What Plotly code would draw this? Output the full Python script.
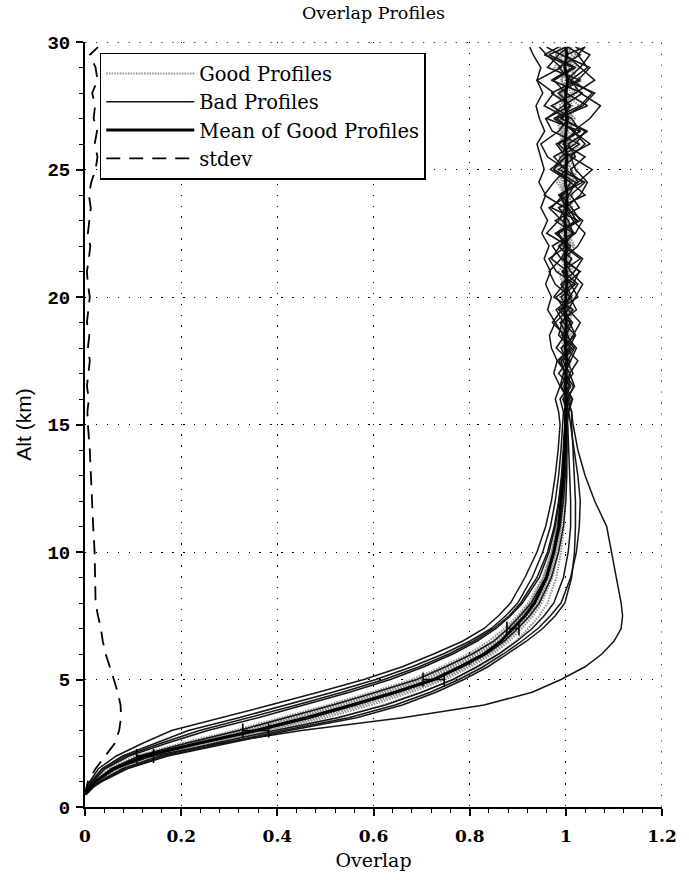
import plotly.graph_objects as go

# Altitude levels (km) shared by every profile
ALT = [0.5, 0.8, 1.0, 1.5, 2.0, 2.5, 3.0, 3.5, 4.0, 4.5, 5.0, 5.5, 6.0, 6.5,
       7.0, 7.5, 8.0, 9.0, 10.0, 11.0, 12.0, 13.0, 14.0, 15.0,
       15.5, 16.0, 16.5, 17.0, 17.5, 18.0, 18.5, 19.0, 19.5, 20.0, 20.5, 21.0,
       21.5, 22.0, 22.5, 23.0, 23.5, 24.0, 24.5, 25.0, 25.5, 26.0, 26.5, 27.0,
       27.5, 28.0, 28.5, 29.0, 29.5, 29.8]

# Good profiles (overlap vs altitude)
good_01 = [0.000, 0.011, 0.021, 0.058, 0.120, 0.228, 0.345, 0.450, 0.545, 0.635, 0.715, 0.772, 0.822, 0.860,
           0.886, 0.912, 0.932, 0.958, 0.974, 0.984, 0.990, 0.995, 0.998, 1.000,
           1.003, 0.997, 1.001, 1.006, 0.998, 0.993, 1.004, 1.000, 1.010, 0.996, 0.990, 1.006, 1.012, 0.998, 1.004,
           0.988, 1.000, 1.014, 1.004, 0.992, 1.008, 0.985, 1.002, 1.018, 0.995, 0.985, 1.012, 1.000, 1.022, 1.005]
good_02 = [0.001, 0.013, 0.024, 0.064, 0.130, 0.242, 0.365, 0.472, 0.566, 0.655, 0.733, 0.788, 0.837, 0.870,
           0.895, 0.920, 0.940, 0.963, 0.977, 0.987, 0.992, 0.996, 0.999, 1.001,
           0.998, 1.005, 0.999, 0.994, 1.006, 1.002, 0.992, 1.008, 1.001, 0.990, 1.012, 0.998, 1.004, 1.016, 0.994,
           1.006, 0.986, 1.000, 1.012, 0.990, 1.016, 1.004, 0.985, 1.008, 0.995, 1.022, 0.990, 1.010, 0.982, 1.005]
good_03 = [0.000, 0.009, 0.018, 0.050, 0.105, 0.200, 0.310, 0.410, 0.505, 0.595, 0.680, 0.742, 0.797, 0.840,
           0.872, 0.900, 0.922, 0.952, 0.970, 0.982, 0.989, 0.994, 0.997, 0.999,
           1.000, 0.994, 1.004, 1.000, 0.992, 1.006, 0.996, 0.990, 1.002, 1.010, 0.994, 0.985, 1.004, 0.994, 1.012,
           1.000, 0.988, 1.006, 0.996, 1.015, 0.985, 1.008, 0.995, 0.980, 1.010, 0.995, 1.015, 0.985, 1.005, 0.995]
good_04 = [0.002, 0.015, 0.028, 0.072, 0.145, 0.262, 0.385, 0.500, 0.595, 0.678, 0.750, 0.802, 0.848, 0.882,
           0.908, 0.932, 0.950, 0.972, 0.984, 0.991, 0.995, 0.998, 1.000, 1.001,
           1.004, 1.000, 0.996, 1.006, 1.010, 1.002, 0.996, 1.008, 1.014, 0.998, 1.006, 1.016, 0.998, 1.010, 1.000,
           1.020, 1.006, 0.995, 1.012, 1.024, 1.000, 0.994, 1.015, 1.005, 1.028, 0.998, 1.012, 1.025, 1.000, 1.012]
good_05 = [0.001, 0.012, 0.023, 0.062, 0.126, 0.236, 0.358, 0.462, 0.558, 0.648, 0.727, 0.782, 0.832, 0.866,
           0.890, 0.915, 0.935, 0.960, 0.975, 0.985, 0.990, 0.995, 0.998, 1.000,
           0.999, 1.003, 0.997, 1.001, 1.006, 0.998, 1.002, 1.008, 0.996, 1.004, 0.998, 1.010, 0.992, 1.004, 1.010,
           0.996, 1.006, 0.990, 1.012, 1.002, 0.994, 1.008, 1.000, 0.988, 1.014, 1.002, 0.990, 1.016, 1.000, 0.988]
good_06 = [0.000, 0.010, 0.020, 0.054, 0.113, 0.215, 0.330, 0.435, 0.528, 0.618, 0.700, 0.760, 0.812, 0.852,
           0.880, 0.906, 0.928, 0.955, 0.972, 0.983, 0.989, 0.994, 0.997, 0.999,
           1.001, 0.996, 1.003, 0.993, 1.000, 1.004, 0.990, 1.000, 0.995, 1.008, 0.992, 0.998, 1.006, 0.986, 0.998,
           1.004, 0.990, 0.998, 0.982, 1.004, 0.994, 0.985, 1.002, 0.990, 0.976, 1.004, 0.990, 0.998, 0.978, 0.995]
good_07 = [0.002, 0.017, 0.031, 0.080, 0.160, 0.280, 0.405, 0.528, 0.620, 0.700, 0.768, 0.818, 0.862, 0.895,
           0.922, 0.945, 0.962, 0.980, 0.990, 0.996, 0.999, 1.001, 1.002, 1.002,
           1.003, 1.007, 1.000, 1.010, 0.998, 1.006, 1.012, 1.000, 1.008, 1.015, 0.998, 1.010, 1.002, 1.018, 1.006,
           0.996, 1.014, 1.006, 1.024, 1.000, 1.012, 1.028, 1.004, 1.018, 0.996, 1.014, 1.032, 1.004, 1.020, 1.028]
good_08 = [0.001, 0.014, 0.026, 0.068, 0.138, 0.252, 0.375, 0.485, 0.580, 0.666, 0.742, 0.795, 0.842, 0.876,
           0.902, 0.926, 0.945, 0.968, 0.980, 0.989, 0.993, 0.997, 0.999, 1.000,
           1.000, 1.003, 0.996, 1.002, 0.997, 1.004, 0.995, 1.001, 1.007, 0.996, 1.004, 0.992, 1.002, 0.994, 1.008,
           1.002, 0.994, 1.010, 1.000, 0.994, 1.012, 1.002, 0.992, 1.012, 1.004, 0.990, 1.010, 1.018, 0.992, 1.006]
good_09 = [0.000, 0.010, 0.019, 0.052, 0.110, 0.210, 0.322, 0.425, 0.520, 0.612, 0.695, 0.755, 0.808, 0.848,
           0.878, 0.904, 0.926, 0.954, 0.971, 0.982, 0.989, 0.994, 0.997, 0.999,
           0.998, 1.001, 0.994, 0.999, 1.003, 0.995, 0.990, 0.998, 1.002, 0.988, 0.998, 1.004, 0.990, 1.000, 0.984,
           0.996, 1.004, 0.990, 0.998, 0.982, 0.996, 1.006, 0.988, 0.980, 0.998, 0.986, 1.004, 0.976, 0.994, 0.985]
good_10 = [0.001, 0.012, 0.022, 0.060, 0.124, 0.232, 0.352, 0.456, 0.552, 0.642, 0.722, 0.778, 0.828, 0.864,
           0.888, 0.913, 0.933, 0.959, 0.975, 0.985, 0.990, 0.995, 0.998, 1.000,
           1.001, 0.999, 1.005, 0.998, 1.002, 0.999, 1.006, 0.997, 1.001, 1.009, 0.996, 1.002, 0.998, 1.008, 0.992,
           1.008, 0.998, 1.003, 0.992, 1.012, 0.998, 1.004, 1.016, 0.994, 1.006, 0.990, 1.010, 0.998, 1.014, 0.994]
good_11 = [0.001, 0.013, 0.025, 0.066, 0.134, 0.246, 0.370, 0.478, 0.572, 0.660, 0.738, 0.792, 0.840, 0.873,
           0.898, 0.922, 0.942, 0.965, 0.978, 0.988, 0.992, 0.996, 0.999, 1.000,
           1.000, 1.004, 0.998, 1.003, 0.995, 1.002, 1.007, 0.997, 1.003, 0.994, 1.008, 1.000, 0.993, 1.006, 1.012,
           0.996, 1.004, 0.990, 1.010, 1.000, 0.992, 1.014, 0.998, 1.006, 0.986, 1.010, 1.000, 0.990, 1.014, 1.000]
good_12 = [0.000, 0.011, 0.021, 0.056, 0.117, 0.222, 0.338, 0.442, 0.537, 0.627, 0.708, 0.766, 0.817, 0.856,
           0.883, 0.909, 0.930, 0.957, 0.973, 0.984, 0.990, 0.994, 0.997, 0.999,
           0.999, 1.002, 0.996, 1.000, 1.004, 0.994, 0.999, 1.006, 0.993, 1.001, 0.996, 1.004, 1.010, 0.992, 1.000,
           0.994, 1.008, 0.998, 0.988, 1.004, 1.010, 0.994, 0.986, 1.006, 0.996, 0.984, 1.008, 0.996, 0.980, 0.990]

# Bad profiles
bad_01 = [0.000, 0.004, 0.010, 0.028, 0.065, 0.120, 0.180, 0.285, 0.385, 0.485, 0.580, 0.660, 0.725, 0.785,
          0.830, 0.860, 0.885, 0.915, 0.940, 0.958, 0.970, 0.978, 0.984, 0.988,
          0.985, 0.978, 0.988, 0.975, 0.982, 0.970, 0.966, 0.978, 0.962, 0.970, 0.958, 0.968, 0.955, 0.965, 0.950,
          0.962, 0.948, 0.958, 0.944, 0.955, 0.948, 0.940, 0.956, 0.945, 0.938, 0.952, 0.940, 0.948, 0.932, 0.925]
bad_02 = [0.000, 0.006, 0.013, 0.035, 0.078, 0.145, 0.215, 0.320, 0.420, 0.515, 0.605, 0.680, 0.745, 0.800,
          0.845, 0.875, 0.900, 0.930, 0.952, 0.968, 0.978, 0.985, 0.990, 0.994,
          0.995, 0.988, 1.006, 0.998, 0.990, 1.012, 0.985, 0.992, 1.015, 0.975, 0.996, 1.004, 0.970, 0.988, 1.018,
          0.992, 0.965, 1.006, 1.020, 0.975, 0.990, 1.028, 0.972, 0.958, 1.010, 0.985, 1.030, 0.962, 0.985, 1.005]
bad_03 = [0.000, 0.008, 0.016, 0.042, 0.092, 0.170, 0.255, 0.360, 0.455, 0.550, 0.635, 0.705, 0.765, 0.815,
          0.855, 0.885, 0.910, 0.945, 0.965, 0.978, 0.986, 0.992, 0.996, 0.998,
          1.004, 1.012, 0.996, 1.015, 1.002, 0.990, 1.020, 1.008, 0.985, 1.025, 1.010, 0.992, 1.030, 0.995, 1.015,
          0.978, 1.028, 1.010, 1.040, 0.985, 1.020, 1.005, 1.045, 0.990, 1.035, 1.060, 1.000, 1.030, 1.050, 1.020]
bad_04 = [0.003, 0.019, 0.035, 0.088, 0.172, 0.295, 0.425, 0.565, 0.660, 0.730, 0.788, 0.838, 0.878, 0.918,
          0.952, 0.978, 0.998, 1.012, 1.018, 1.020, 1.020, 1.018, 1.015, 1.012,
          1.012, 1.002, 1.018, 1.008, 1.025, 1.000, 1.015, 1.030, 1.005, 1.020, 1.035, 1.010, 0.995, 1.025, 1.040,
          1.015, 1.000, 1.030, 1.045, 1.020, 1.010, 1.040, 1.015, 1.050, 1.072, 1.030, 1.010, 1.045, 1.025, 1.040]
bad_05 = [0.002, 0.016, 0.030, 0.078, 0.155, 0.270, 0.395, 0.525, 0.625, 0.700, 0.765, 0.815, 0.860, 0.898,
          0.930, 0.955, 0.975, 0.995, 1.005, 1.010, 1.010, 1.008, 1.006, 1.004,
          0.998, 1.008, 0.990, 1.002, 0.982, 1.010, 0.995, 0.978, 1.005, 0.990, 1.020, 0.980, 0.965, 1.002, 0.985,
          1.025, 0.970, 0.995, 1.010, 0.968, 1.000, 0.980, 1.030, 0.960, 0.995, 1.035, 0.970, 1.015, 0.955, 0.985]
bad_06 = [0.000, 0.010, 0.020, 0.055, 0.112, 0.210, 0.320, 0.420, 0.515, 0.605, 0.690, 0.750, 0.805, 0.850,
          0.880, 0.905, 0.928, 0.958, 0.975, 0.988, 0.995, 0.999, 1.002, 1.003,
          1.006, 0.996, 1.010, 0.985, 1.004, 1.018, 0.992, 1.010, 0.998, 0.980, 1.015, 1.028, 0.995, 1.010, 0.978,
          1.022, 1.005, 0.985, 1.035, 1.000, 0.975, 1.020, 1.040, 0.990, 1.010, 0.970, 1.025, 1.050, 0.990, 0.960]
bad_07 = [0.000, 0.007, 0.014, 0.038, 0.085, 0.158, 0.238, 0.342, 0.440, 0.535, 0.622, 0.695, 0.757, 0.808,
          0.850, 0.882, 0.906, 0.940, 0.962, 0.976, 0.985, 0.991, 0.995, 0.998,
          0.996, 1.004, 0.988, 0.995, 1.008, 0.980, 0.998, 0.972, 0.992, 1.010, 0.978, 0.965, 0.990, 1.005, 0.960,
          0.985, 0.998, 0.955, 0.975, 1.000, 0.962, 0.948, 0.985, 1.005, 0.955, 0.975, 0.940, 0.990, 0.960, 0.945]
bad_08 = [0.000, 0.010, 0.020, 0.060, 0.140, 0.280, 0.450, 0.660, 0.830, 0.930, 0.990, 1.040, 1.075, 1.100,
          1.115, 1.118, 1.115, 1.105, 1.095, 1.085, 1.060, 1.040, 1.025, 1.015,
          1.012, 1.004, 1.016, 0.998, 1.010, 1.022, 1.000, 1.014, 0.990, 1.008, 1.025, 0.995, 1.012, 0.985, 1.020,
          1.035, 1.000, 0.988, 1.025, 1.010, 1.040, 0.995, 1.020, 0.975, 1.030, 1.055, 1.010, 0.985, 1.030, 1.005]
bad_09 = [0.001, 0.011, 0.022, 0.062, 0.128, 0.240, 0.362, 0.470, 0.562, 0.650, 0.728, 0.785, 0.835, 0.872,
          0.900, 0.925, 0.945, 0.970, 0.985, 0.995, 1.000, 1.002, 1.002, 1.001,
          1.003, 0.994, 1.010, 1.000, 0.986, 1.006, 1.020, 0.995, 0.980, 1.012, 1.000, 1.030, 0.990, 0.972, 1.015,
          1.005, 0.985, 1.040, 1.010, 0.975, 1.000, 1.050, 1.015, 0.982, 1.045, 1.000, 0.975, 1.020, 0.965, 1.000]
bad_10 = [0.002, 0.017, 0.033, 0.084, 0.165, 0.285, 0.412, 0.548, 0.645, 0.718, 0.778, 0.828, 0.870, 0.908,
          0.942, 0.968, 0.990, 1.010, 1.022, 1.028, 1.030, 1.025, 1.018, 1.010,
          1.006, 1.014, 1.000, 1.008, 0.994, 1.016, 1.004, 0.988, 1.022, 1.008, 0.990, 1.018, 1.035, 1.000, 0.982,
          1.030, 1.012, 0.990, 1.025, 1.055, 1.010, 0.985, 1.030, 1.012, 0.970, 1.020, 1.060, 1.030, 1.000, 1.040]

# Mean of the good profiles and its standard deviation
mean_good = [0.000, 0.012, 0.022, 0.060, 0.125, 0.235, 0.355, 0.460, 0.555, 0.645, 0.725, 0.780, 0.830, 0.865,
             0.890, 0.915, 0.935, 0.960, 0.975, 0.985, 0.990, 0.995, 0.998, 1.000,
             1.000, 1.001, 0.999, 1.000, 1.002, 0.999, 1.000, 1.001, 0.998, 1.000, 1.002, 1.000, 0.999, 1.001, 1.000,
             0.998, 1.001, 1.003, 0.999, 1.000, 1.002, 0.998, 1.001, 1.003, 0.999, 1.000, 1.004, 0.998, 1.002, 1.000]
stdev_good = [0.000, 0.003, 0.006, 0.022, 0.042, 0.062, 0.071, 0.075, 0.074, 0.068, 0.060, 0.052, 0.043, 0.037,
              0.033, 0.027, 0.022, 0.021, 0.020, 0.017, 0.015, 0.013, 0.010, 0.006,
              0.005, 0.008, 0.004, 0.007, 0.010, 0.006, 0.009, 0.004, 0.007, 0.010, 0.006, 0.004, 0.008, 0.011, 0.006,
              0.009, 0.012, 0.008, 0.013, 0.022, 0.026, 0.020, 0.025, 0.018, 0.021, 0.015, 0.026, 0.022, 0.010, 0.027]

# Spread markers on the mean curve (indices into ALT) and their half widths
bar_alt_idx = [4, 6, 10, 14]
bar_half_width = [0.0175, 0.027, 0.022, 0.0125]

GOOD = [good_01, good_02, good_03, good_04, good_05, good_06,
        good_07, good_08, good_09, good_10, good_11, good_12]
BAD = [bad_01, bad_02, bad_03, bad_04, bad_05, bad_06, bad_07, bad_08, bad_09, bad_10]

X_MAX = 1.2
Y_MAX = 30
X_TICKS = [0, 0.2, 0.4, 0.6, 0.8, 1.0, 1.2]
X_TICK_TEXT = ["0", "0.2", "0.4", "0.6", "0.8", "1", "1.2"]
Y_TICKS = [0, 5, 10, 15, 20, 25, 30]

SERIF = "DejaVu Serif"
GRID_DASH = "1.4px,9.5px"

fig = go.Figure()

for i, xs in enumerate(GOOD):
    fig.add_trace(go.Scatter(
        x=xs, y=ALT, mode="lines", name="Good Profiles", legendgroup="good",
        showlegend=(i == 0), legendrank=1,
        line=dict(color="#8e8e8e", width=2.0, dash="1.5px,1.2px"),
        hoverinfo="skip"))

for i, xs in enumerate(BAD):
    fig.add_trace(go.Scatter(
        x=xs, y=ALT, mode="lines", name="Bad Profiles", legendgroup="bad",
        showlegend=(i == 0), legendrank=2,
        line=dict(color="#151515", width=1.5),
        hoverinfo="skip"))

fig.add_trace(go.Scatter(
    x=mean_good, y=ALT, mode="lines", name="Mean of Good Profiles",
    legendrank=3, line=dict(color="black", width=3)))

fig.add_trace(go.Scatter(
    x=[mean_good[k] for k in bar_alt_idx], y=[ALT[k] for k in bar_alt_idx],
    mode="markers", marker=dict(size=1, color="black"), showlegend=False,
    error_x=dict(type="data", array=bar_half_width, color="black",
                 thickness=1.6, width=7)))

fig.add_trace(go.Scatter(
    x=stdev_good, y=ALT, mode="lines", name="stdev", legendrank=4,
    line=dict(color="black", width=1.8, dash="14px,9px")))

# dotted grid lines along the far edges of the plot area
fig.add_shape(type="line", xref="x", yref="paper", x0=X_MAX, x1=X_MAX, y0=0, y1=1,
              line=dict(color="black", width=1.4, dash=GRID_DASH), layer="below")
fig.add_shape(type="line", xref="paper", yref="y", x0=0, x1=1, y0=Y_MAX, y1=Y_MAX,
              line=dict(color="black", width=1.4, dash=GRID_DASH), layer="below")

fig.update_layout(
    width=689, height=880, autosize=False,
    margin=dict(l=85, r=17, t=42, b=72),
    paper_bgcolor="white", plot_bgcolor="white",
    title=dict(text="Overlap Profiles", x=0.5, xref="paper", xanchor="center",
               y=1 - 13 / 880, yref="container", yanchor="middle",
               font=dict(family=SERIF, size=17.5, color="black")),
    legend=dict(x=0.0256, y=0.986, xanchor="left", yanchor="top",
                bgcolor="white", bordercolor="black", borderwidth=1.5,
                font=dict(family=SERIF, size=19.5, color="black"),
                itemwidth=88, tracegroupgap=0),
    showlegend=True,
)

fig.update_xaxes(
    range=[0, X_MAX], tickmode="array", tickvals=X_TICKS, ticktext=X_TICK_TEXT,
    showline=True, linecolor="black", linewidth=2, mirror=False,
    ticks="outside", ticklen=7, tickwidth=1.5, tickcolor="black",
    ticklabelstandoff=6,
    tickfont=dict(family=SERIF, size=17, color="black", weight="bold"),
    minor=dict(dtick=0.04, tick0=0, ticks="outside", ticklen=4, tickwidth=1.2,
               tickcolor="black", showgrid=False),
    showgrid=True, gridcolor="black", gridwidth=1.4, griddash=GRID_DASH,
    zeroline=False,
    title=dict(text="Overlap", standoff=8,
               font=dict(family=SERIF, size=19, color="black")),
)

fig.update_yaxes(
    range=[0, Y_MAX], tickmode="array", tickvals=Y_TICKS,
    showline=True, linecolor="black", linewidth=2, mirror=False,
    ticks="outside", ticklen=7, tickwidth=1.5, tickcolor="black",
    ticklabelstandoff=2,
    tickfont=dict(family="Liberation Mono", size=19, color="black", weight="bold"),
    minor=dict(dtick=1, tick0=0, ticks="outside", ticklen=4, tickwidth=1.2,
               tickcolor="black", showgrid=False),
    showgrid=True, gridcolor="black", gridwidth=1.4, griddash=GRID_DASH,
    zeroline=False,
    title=dict(text="Alt (km)", standoff=10,
               font=dict(family="Liberation Sans", size=21, color="black")),
)

fig.write_html("out.html")
